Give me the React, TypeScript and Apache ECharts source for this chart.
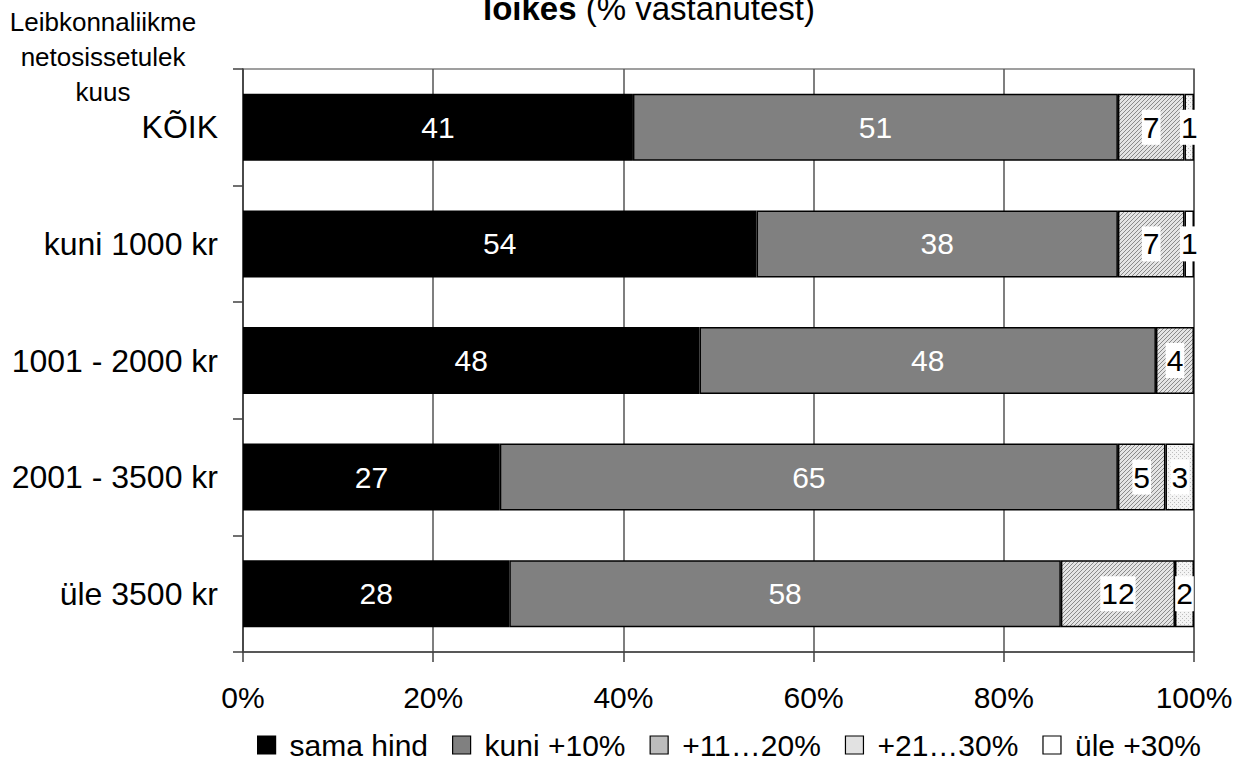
import React, { useEffect, useRef } from "react";
import * as echarts from "echarts";

const categories = ["KÕIK", "kuni 1000 kr", "1001 - 2000 kr", "2001 - 3500 kr", "üle 3500 kr"];
const seriesNames = ["sama hind", "kuni +10%", "+11…20%", "+21…30%", "üle +30%"];
const samaHind = [41, 54, 48, 27, 28];
const kuni10 = [51, 38, 48, 65, 58];
const p11to20 = [7, 7, 4, 5, 12];
const p21to30 = [1, 0, 0, 3, 2];
const ule30 = [0, 1, 0, 0, 0];
const xTicks = [0, 20, 40, 60, 80, 100];

const FONT = "Liberation Sans, Arial, sans-serif";

function makePattern(kind: "hatch" | "dots"): any {
  const c = document.createElement("canvas");
  c.width = 4;
  c.height = 4;
  const ctx = c.getContext("2d")!;
  if (kind === "hatch") {
    ctx.fillStyle = "#e4e4e4";
    ctx.fillRect(0, 0, 4, 4);
    ctx.fillStyle = "#8a8a8a";
    for (let i = 0; i < 4; i++) ctx.fillRect(i, 3 - i, 1, 1);
  } else {
    ctx.fillStyle = "#f4f4f4";
    ctx.fillRect(0, 0, 4, 4);
    ctx.fillStyle = "#bdbdbd";
    ctx.fillRect(0, 0, 1, 1);
    ctx.fillRect(2, 2, 1, 1);
  }
  return { image: c, repeat: "repeat" };
}

export default function App() {
  const ref = useRef<HTMLDivElement>(null);
  useEffect(() => {
    if (!ref.current) return;
    const chart = echarts.init(ref.current, undefined, { renderer: "svg" });
    const colors: any[] = ["#000000", "#808080", makePattern("hatch"), makePattern("dots"), "#ffffff"];
    const legendColors = ["#000000", "#808080", "#bcbcbc", "#e2e2e2", "#ffffff"];
    const values = [samaHind, kuni10, p11to20, p21to30, ule30];
    const darkLabel = [true, true, false, false, false];
    const series = values.map((arr, si) => ({
      name: seriesNames[si],
      type: "bar",
      stack: "total",
      barWidth: 67,
      itemStyle: { color: colors[si], borderColor: "#000", borderWidth: 1.5 },
      label: darkLabel[si]
        ? { show: true, position: "inside", color: "#fff", fontSize: 30, fontFamily: FONT }
        : {
            show: true,
            position: "inside",
            color: "#000",
            fontSize: 30,
            fontFamily: FONT,
            backgroundColor: "#fff",
            padding: [4, 1, 1, 1],
          },
      data: arr.map((v) => (v > 0 ? { value: v } : { value: 0, label: { show: false }, itemStyle: { borderWidth: 0 } })),
    }));
    chart.setOption({
      animation: false,
      backgroundColor: "#fff",
      textStyle: { fontFamily: FONT },
      grid: { left: 243, right: 42, top: 69, bottom: 117, show: true, borderColor: "#808080", borderWidth: 1.5 },
      legend: {
        bottom: 4,
        left: 252,
        itemWidth: 18,
        itemHeight: 18,
        itemGap: 24,
        icon: "rect",
        textStyle: { fontSize: 30, color: "#000", fontFamily: FONT, padding: [0, 0, 0, 9] },
        data: seriesNames.map((n, i) => ({
          name: n,
          itemStyle: { color: legendColors[i], borderColor: "#000", borderWidth: 1.2 },
        })),
      },
      xAxis: {
        type: "value",
        min: xTicks[0],
        max: xTicks[xTicks.length - 1],
        interval: 20,
        axisLine: { show: true, lineStyle: { color: "#404040", width: 1.5 } },
        axisTick: { show: true, inside: false, length: 10, lineStyle: { color: "#404040", width: 1.5 } },
        axisLabel: { formatter: "{value}%", fontSize: 30, color: "#000", margin: 30, fontFamily: FONT },
        splitLine: { show: true, lineStyle: { color: "#555", width: 1.5 } },
      },
      yAxis: {
        type: "category",
        inverse: true,
        data: categories,
        axisLine: { show: true, lineStyle: { color: "#404040", width: 1.5 } },
        axisTick: { show: true, inside: false, length: 10, alignWithLabel: false, lineStyle: { color: "#404040", width: 1.5 } },
        axisLabel: { fontSize: 32, color: "#000", margin: 25, fontFamily: FONT },
        splitLine: { show: false },
      },
      graphic: [
        {
          type: "text",
          x: 103,
          y: 4,
          style: {
            text: "Leibkonnaliikme\nnetosissetulek\nkuus",
            align: "center",
            verticalAlign: "top",
            font: `26px ${FONT}`,
            lineHeight: 35,
            fill: "#000",
          },
        },
        {
          type: "text",
          x: 649,
          y: 8,
          style: {
            text: "{b|lõikes}{n| (% vastanutest)}",
            align: "center",
            verticalAlign: "middle",
            rich: {
              b: { fontWeight: "bold", fontSize: 33, fontFamily: FONT, fill: "#000" },
              n: { fontSize: 33, fontFamily: FONT, fill: "#000" },
            },
          },
        },
      ],
      series,
    });
    return () => chart.dispose();
  }, []);
  return (
    <div
      ref={ref}
      style={{ position: "fixed", left: 0, top: 0, width: 1236, height: 769, overflow: "hidden" }}
    />
  );
}
